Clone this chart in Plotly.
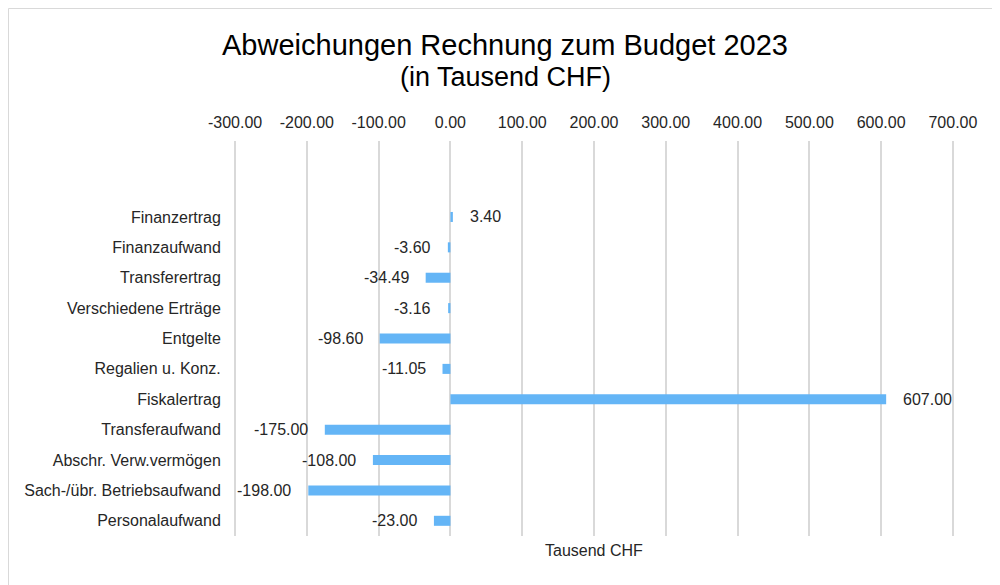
import plotly.graph_objects as go

categories = ["Personalaufwand", "Sach-/übr. Betriebsaufwand", "Abschr. Verw.vermögen",
              "Transferaufwand", "Fiskalertrag", "Regalien u. Konz.", "Entgelte",
              "Verschiedene Erträge", "Transferertrag", "Finanzaufwand", "Finanzertrag"]
values = [-23.00, -198.00, -108.00, -175.00, 607.00, -11.05, -98.60, -3.16, -34.49, -3.60, 3.40]
x_ticks = [-300, -200, -100, 0, 100, 200, 300, 400, 500, 600, 700]

positions = list(range(len(categories)))
FONT = "Liberation Sans, Arial, sans-serif"
TXT = "#262626"

# plot area in figure pixels (page body adds an 8px offset)
L, T, R, B = 226, 133, 946, 528
W_PLOT = R - L
H_PLOT = B - T

fig = go.Figure()
fig.add_trace(go.Bar(
    x=values, y=positions, orientation="h", width=0.33,
    marker=dict(color="#64B5F6", line=dict(width=0)),
    hoverinfo="x+text", text=categories, textposition="none",
))

for p, v in zip(positions, values):
    fig.add_annotation(
        x=v, y=p, xref="x", yref="y", text=f"{v:.2f}", showarrow=False,
        xanchor="left" if v >= 0 else "right", xshift=15 if v >= 0 else -15,
        font=dict(family=FONT, size=16, color=TXT),
    )

fig.add_annotation(
    x=0.5, y=0, xref="paper", yref="paper", text="Tausend CHF", showarrow=False,
    yanchor="middle", yshift=-14, font=dict(family=FONT, size=16, color=TXT),
)

fig.add_annotation(
    x=(497 - L) / W_PLOT, y=(B - 69) / H_PLOT, xref="paper", yref="paper",
    text="(in Tausend CHF)", showarrow=False, xanchor="center", yanchor="middle",
    font=dict(family=FONT, size=27, color="#000000"),
)

fig.add_shape(
    type="rect", xref="paper", yref="paper",
    x0=(0.5 - L) / W_PLOT, x1=(1010 - L) / W_PLOT,
    y0=(B - 600) / H_PLOT, y1=(B - 0.5) / H_PLOT,
    line=dict(color="#d9d9d9", width=1), fillcolor="rgba(0,0,0,0)", layer="below",
)

fig.update_layout(
    width=1000, height=585,
    margin=dict(l=L, r=1000 - R, t=T, b=585 - B),
    paper_bgcolor="white", plot_bgcolor="white",
    showlegend=False,
    title=dict(
        text="Abweichungen Rechnung zum Budget 2023",
        x=0.497, xref="container", xanchor="center",
        y=1 - 37 / 585, yref="container", yanchor="middle",
        font=dict(family=FONT, size=29, color="#000000"),
    ),
    xaxis=dict(
        side="top", range=[-301.5, 701.5], tickvals=x_ticks,
        ticktext=[f"{t:.2f}" for t in x_ticks],
        showgrid=True, gridcolor="#d9d9d9", gridwidth=2,
        zeroline=True, zerolinecolor="#d9d9d9", zerolinewidth=2,
        showline=False, ticks="outside", ticklen=6, tickcolor="white",
        tickfont=dict(family=FONT, size=16, color=TXT),
        fixedrange=True, automargin=False,
    ),
    yaxis=dict(
        range=[-0.5, 12.5], tickvals=positions, ticktext=categories,
        showgrid=False, zeroline=False, showline=False,
        ticks="outside", ticklen=9, tickcolor="white",
        tickfont=dict(family=FONT, size=16, color=TXT),
        fixedrange=True, automargin=False,
    ),
)

fig.write_html("out.html")
